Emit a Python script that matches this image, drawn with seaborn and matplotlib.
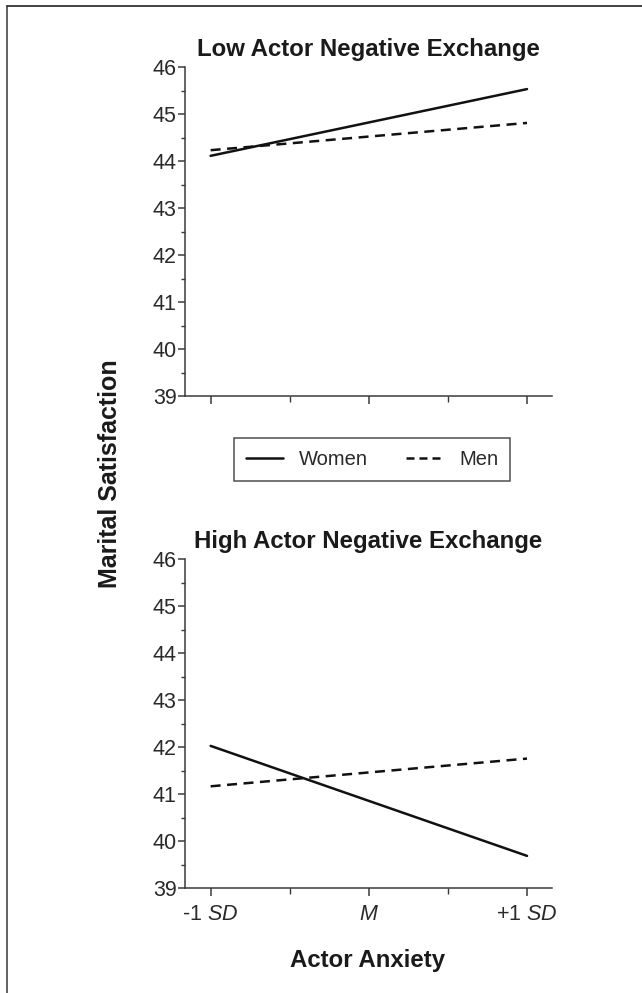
import matplotlib
matplotlib.use("Agg")
import matplotlib.pyplot as plt
import seaborn as sns
import pandas as pd
from matplotlib.lines import Line2D

# ---- data ----
anxiety = [-1, 1]
anxiety_ticks = [-1, 0, 1]
anxiety_labels = ["-1 $\\it{SD}$", "$\\it{M}$", "+1 $\\it{SD}$"]
low_women = [44.11, 45.53]
low_men = [44.23, 44.81]
high_women = [42.03, 39.69]
high_men = [41.17, 41.76]
panels = ["Low Actor Negative Exchange", "High Actor Negative Exchange"]

rows = []
for panel, w, m in [(panels[0], low_women, low_men), (panels[1], high_women, high_men)]:
    for x, v in zip(anxiety, w):
        rows.append({"panel": panel, "anxiety": x, "gender": "Women", "sat": v})
    for x, v in zip(anxiety, m):
        rows.append({"panel": panel, "anxiety": x, "gender": "Men", "sat": v})
df = pd.DataFrame(rows)

sns.set_theme(style="ticks")
plt.rcParams["font.family"] = ["Liberation Sans", "DejaVu Sans"]
plt.rcParams["mathtext.fontset"] = "custom"
plt.rcParams["mathtext.rm"] = "Liberation Sans"
plt.rcParams["mathtext.it"] = "Liberation Sans:italic"

fig = plt.figure(figsize=(6.42, 9.93), dpi=100)
W, H = 642, 993
ax_left, ax_right = 185 / W, 552 / W
tops = [67, 559.3]
bottoms = [396, 888.3]
spine_col = "#3a3a3a"
txt_col = "#2a2a2a"
tick_fs = 15.5

for i, panel in enumerate(panels):
    ax = fig.add_axes([ax_left, 1 - bottoms[i] / H, ax_right - ax_left, (bottoms[i] - tops[i]) / H])
    sub = df[df["panel"] == panel]
    sns.lineplot(data=sub, x="anxiety", y="sat", style="gender",
                 dashes={"Women": "", "Men": (4, 2.6)}, color="#111111",
                 linewidth=1.8, legend=False, ax=ax)
    ax.set_xlim(-1.162, 1.158)
    ax.set_ylim(39, 46)
    ax.set_yticks(range(39, 47))
    ax.set_yticks([39.5 + k for k in range(7)], minor=True)
    ax.set_xticks(anxiety_ticks)
    ax.set_xticks([-0.5, 0.5], minor=True)
    if i == 1:
        ax.set_xticklabels(anxiety_labels)
    else:
        ax.set_xticklabels([])
    ax.set_xlabel("")
    ax.set_ylabel("")
    sns.despine(ax=ax)
    for s in ["left", "bottom"]:
        ax.spines[s].set_color(spine_col)
        ax.spines[s].set_linewidth(1.1)
    ax.tick_params(axis="y", which="major", length=5, width=1.1, color=spine_col,
                   labelsize=tick_fs, labelcolor=txt_col, pad=1)
    ax.tick_params(axis="y", which="minor", length=3, width=1.0, color=spine_col)
    ax.tick_params(axis="x", which="major", length=6, width=1.1, color=spine_col,
                   labelsize=tick_fs, labelcolor=txt_col, pad=5)
    ax.tick_params(axis="x", which="minor", length=4, width=1.0, color=spine_col)
    ax.set_title(panel, fontsize=17.3, fontweight="bold", color="#1a1a1a", pad=8)

fig.text(110 / W, 1 - 474 / H, "Marital Satisfaction", rotation=90, ha="center", va="center",
         fontsize=18, fontweight="bold", color="#1a1a1a")
fig.text(368 / W, 1 - 961 / H, "Actor Anxiety", ha="center", va="center",
         fontsize=17.3, fontweight="bold", color="#1a1a1a")

handles = [Line2D([], [], color="#111111", lw=1.8, label="Women"),
           Line2D([], [], color="#111111", lw=1.8, dashes=(3.2, 2.0), label="Men")]
leg = fig.legend(handles=handles, loc="center", bbox_to_anchor=(372 / W, 1 - 459.5 / H),
                 ncol=2, frameon=True, fancybox=False, fontsize=14.5, handlelength=1.85,
                 columnspacing=1.85, handletextpad=0.8, borderpad=0.6, edgecolor="#222222")
leg.get_frame().set_linewidth(1.1)
for t in leg.get_texts():
    t.set_color(txt_col)

# border lines (left and top)
fig.add_artist(Line2D([7 / W, 7 / W], [0, 1 - 6 / H], color="#555555", lw=1.3, transform=fig.transFigure))
fig.add_artist(Line2D([7 / W, 1], [1 - 6 / H, 1 - 6 / H], color="#333333", lw=1.3, transform=fig.transFigure))

fig.savefig("out.png", dpi=100, facecolor="white")
